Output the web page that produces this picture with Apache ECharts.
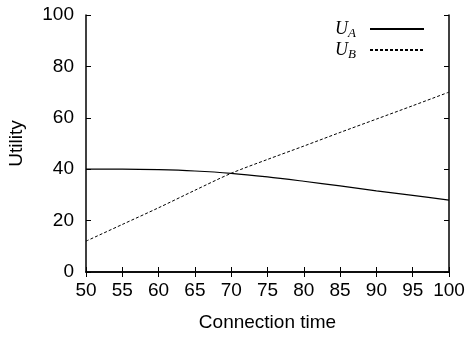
<!DOCTYPE html>
<html><head><meta charset="utf-8">
<script src="https://cdn.jsdelivr.net/npm/echarts@6/dist/echarts.min.js"></script>
<style>html,body{margin:0;padding:0;background:#fff}#c{width:467px;height:337px}</style>
</head><body><div id="c"></div>
<script>
const xValues = [50, 55, 60, 65, 70, 75, 80, 85, 90, 95, 100];
const uA = [40, 40, 39.8, 39.3, 38.4, 37, 35.3, 33.5, 31.6, 29.8, 28];
const uB = [12, 18.5, 25, 31.8, 38.4, 43.8, 49, 54.3, 59.5, 64.7, 70];
const xTicks = [50, 100, 5];
const yTicks = [0, 100, 20];
const seriesNames = ['U_A', 'U_B'];

const chart = echarts.init(document.getElementById('c'));
const font = 'Liberation Sans, Arial, sans-serif';
const axisBase = {
  axisLine: {show: true, lineStyle: {color: '#000', width: 1.5}},
  axisTick: {show: true, inside: true, length: 5, lineStyle: {color: '#000', width: 1}},
  splitLine: {show: false}
};
chart.setOption({
  animation: false,
  grid: {left: 86, right: 18, top: 15, bottom: 65, containLabel: false, outerBoundsMode: 'none'},
  legend: {
    orient: 'vertical', right: 37, top: 15, align: 'right',
    itemWidth: 54, itemHeight: 12, itemGap: 1,
    itemStyle: {opacity: 0},
    data: seriesNames,
    formatter: function (n) { return '{u|U}{s|' + n.slice(2) + '}'; },
    textStyle: {
      rich: {
        u: {fontFamily: 'Liberation Serif, serif', fontStyle: 'italic', fontSize: 18, color: '#000'},
        s: {fontFamily: 'Liberation Serif, serif', fontStyle: 'italic', fontSize: 13, color: '#000', verticalAlign: 'bottom', padding: [9, 9, 0, 0]}
      }
    }
  },
  xAxis: [
    Object.assign({type: 'value', min: xTicks[0], max: xTicks[1], interval: xTicks[2],
      name: 'Connection time', nameLocation: 'middle', nameGap: 41,
      nameTextStyle: {fontFamily: font, fontSize: 19, color: '#000'},
      axisLabel: {fontFamily: font, fontSize: 19, color: '#000', margin: 9}}, axisBase),
    Object.assign({type: 'value', position: 'top', min: xTicks[0], max: xTicks[1], interval: xTicks[2],
      axisLabel: {show: false}}, axisBase)
  ],
  yAxis: [
    Object.assign({type: 'value', min: yTicks[0], max: yTicks[1], interval: yTicks[2],
      name: 'Utility', nameLocation: 'middle', nameGap: 60,
      nameTextStyle: {fontFamily: font, fontSize: 19, color: '#000'},
      axisLabel: {fontFamily: font, fontSize: 19, color: '#000', margin: 12}}, axisBase),
    Object.assign({type: 'value', position: 'right', min: yTicks[0], max: yTicks[1], interval: yTicks[2],
      axisLabel: {show: false}}, axisBase)
  ],
  series: [
    {name: seriesNames[0], type: 'line', symbol: 'none', smooth: 0.3,
      data: xValues.map((x, i) => [x, uA[i]]),
      lineStyle: {color: '#000', width: 1.2, type: 'solid'}, itemStyle: {color: '#000'}},
    {name: seriesNames[1], type: 'line', symbol: 'none', smooth: 0.3,
      data: xValues.map((x, i) => [x, uB[i]]),
      lineStyle: {color: '#000', width: 1, type: [3, 2]}, itemStyle: {color: '#000'}}
  ]
});
</script></body></html>
